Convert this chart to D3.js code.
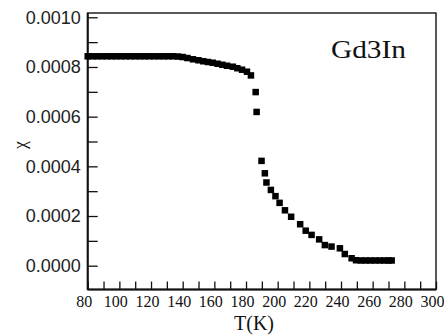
<!DOCTYPE html>
<meta charset="utf-8">
<script src="https://d3js.org/d3.v7.min.js"></script>
<style>
  body { margin: 0; background: #fff; }
</style>
<div id="my_dataviz"></div>
<script>

// temperatures (K) and susceptibility values
var temps = [80, 83, 86, 89, 92, 95, 98, 101, 104, 107, 110, 113, 116, 119, 122, 125, 128, 131, 134, 137,
             140, 143, 146.5, 150, 153, 156, 159, 162, 165, 168, 171.7, 174.5, 177.5, 180.6, 183.1,
             186.1, 186.7, 189.8, 191.9, 192.9, 195.7, 198.6, 201.2, 204.6, 208.5, 214.2, 217.7, 221.4,
             226.2, 229.8, 234, 239.3, 242.4, 246.7, 249.5, 252.5, 255.5, 258.5, 261.5, 264.5, 267.5, 270, 272];
var chi = [0.000843, 0.000843, 0.000843, 0.000843, 0.000843, 0.000843, 0.000843, 0.000843, 0.000843, 0.000843,
           0.000843, 0.000843, 0.000843, 0.000843, 0.000843, 0.000843, 0.000843, 0.000843, 0.000843, 0.000842,
           0.000840, 0.000836, 0.000831, 0.000827, 0.000823, 0.000820, 0.000817, 0.000813, 0.000809, 0.000805,
           0.000801, 0.000795, 0.000789, 0.000781, 0.000766,
           0.000699, 0.000619, 0.000422, 0.000372, 0.000335, 0.000305, 0.000280, 0.000253, 0.000223, 0.000197,
           0.000167, 0.000141, 0.000124, 0.000106, 0.000083, 0.000077, 0.000070, 0.000047, 0.000030, 0.000022,
           0.000021, 0.000021, 0.000021, 0.000021, 0.000021, 0.000021, 0.000021, 0.000021];

var xMajor = [80, 100, 120, 140, 160, 180, 200, 220, 240, 260, 280, 300];
var xMinor = [90, 110, 130, 150, 170, 190, 210, 230, 250, 270, 290];
var yMajor = [0, 0.0002, 0.0004, 0.0006, 0.0008, 0.0010];
var yMinor = [0.0001, 0.0003, 0.0005, 0.0007, 0.0009];

var sampleName = "Gd3In";

var width = 444, height = 335;

var svg = d3.select("#my_dataviz")
  .append("svg")
    .attr("width", width)
    .attr("height", height);

// scales
var x = d3.scaleLinear().domain([80, 300]).range([87.7, 436]);
var y = d3.scaleLinear().domain([0, 0.001]).range([265.7, 17.3]);

var plotTop = 13, plotBottom = 289.5;

// frame
svg.append("rect")
  .attr("x", x(80))
  .attr("y", plotTop)
  .attr("width", x(300) - x(80))
  .attr("height", plotBottom - plotTop)
  .attr("fill", "none")
  .attr("stroke", "#222")
  .attr("stroke-width", 1.5);

// X axis (ticks point inward)
var xAxis = svg.append("g")
  .attr("transform", "translate(0," + plotBottom + ")")
  .call(d3.axisBottom(x).tickValues(xMajor).tickSize(-8).tickPadding(6).tickFormat(d3.format("d")));
xAxis.selectAll("text")
  .attr("dx", -4)
  .style("font-family", "'Liberation Serif', serif")
  .style("font-size", "16px")
  .attr("fill", "#111");
svg.append("g")
  .attr("transform", "translate(0," + plotBottom + ")")
  .call(d3.axisBottom(x).tickValues(xMinor).tickSize(-8).tickFormat(""));

// Y axis
var yAxis = svg.append("g")
  .attr("transform", "translate(" + x(80) + ",0)")
  .call(d3.axisLeft(y).tickValues(yMajor).tickSize(-10).tickPadding(7).tickFormat(d3.format(".4f")));
yAxis.selectAll("text")
  .style("font-family", "'Liberation Sans', Arial, sans-serif")
  .style("font-size", "18px")
  .attr("fill", "#222");
svg.append("g")
  .attr("transform", "translate(" + x(80) + ",0)")
  .call(d3.axisLeft(y).tickValues(yMinor).tickSize(-10).tickFormat(""));

svg.selectAll(".domain").remove();
svg.selectAll(".tick line").attr("stroke", "#111").attr("stroke-width", 1.3);

// thicker left and bottom axis lines
svg.append("line")
  .attr("x1", x(80)).attr("x2", x(80))
  .attr("y1", plotTop).attr("y2", plotBottom)
  .attr("stroke", "#111").attr("stroke-width", 2);
svg.append("line")
  .attr("x1", x(80)).attr("x2", x(300))
  .attr("y1", plotBottom).attr("y2", plotBottom)
  .attr("stroke", "#111").attr("stroke-width", 2);

// data points as squares
var data = temps.map(function(t, i) { return {t: t, v: chi[i]}; });
var s = 6.5;
svg.append("g")
  .selectAll("rect")
  .data(data)
  .enter()
  .append("rect")
    .attr("x", function(d) { return x(d.t) - s / 2; })
    .attr("y", function(d) { return y(d.v) - s / 2; })
    .attr("width", s)
    .attr("height", s)
    .attr("fill", "#000");

// axis labels
svg.append("text")
  .attr("x", 254)
  .attr("y", 330)
  .attr("text-anchor", "middle")
  .style("font-family", "'Liberation Serif', serif")
  .style("font-size", "20px")
  .attr("fill", "#111")
  .text("T(K)");

svg.append("text")
  .attr("transform", "translate(26,145) rotate(-90)")
  .attr("text-anchor", "middle")
  .style("font-family", "'Liberation Serif', serif")
  .style("font-size", "18px")
  .attr("fill", "#111")
  .text("χ");

// sample name
svg.append("text")
  .attr("x", 331)
  .attr("y", 58)
  .attr("textLength", 75)
  .attr("lengthAdjust", "spacingAndGlyphs")
  .style("font-family", "'Liberation Serif', serif")
  .style("font-size", "25px")
  .attr("fill", "#111")
  .text(sampleName);

</script>
